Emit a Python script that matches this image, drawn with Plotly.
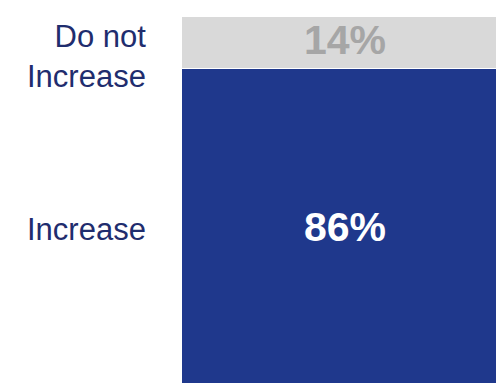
import plotly.graph_objects as go

categories = ["Increase", "Do not Increase"]
labels = ["Increase", "Do not<br>Increase"]
values = [86, 14]
colors = ["#1f388c", "#d9d9d9"]
text_colors = ["#ffffff", "#a6a6a6"]
label_color = "#1f2d6e"

fig = go.Figure()
for cat, val, col in zip(categories, values, colors):
    fig.add_trace(go.Bar(
        x=[0], y=[val], name=cat, width=1,
        marker=dict(color=col, line=dict(color="#ffffff", width=1.5)),
        textposition="none", hoverinfo="skip",
    ))

base = 0
label_offsets = [3, 14]
for lab, val, tc, off in zip(labels, values, text_colors, label_offsets):
    mid = base + val / 2
    fig.add_annotation(
        x=0, y=mid, xref="x", yref="y", text=f"<b>{val}%</b>",
        showarrow=False, xshift=5, yshift=(3 if val == 14 else 0),
        font=dict(family="Liberation Sans, Arial", size=41, color=tc),
    )
    fig.add_annotation(
        x=0, y=mid, xref="paper", yref="y", text=lab,
        showarrow=False, xanchor="right", yanchor="middle", align="right",
        xshift=-34, yshift=-off,
        font=dict(family="Liberation Sans, Arial", size=31, color=label_color),
    )
    base += val

fig.update_layout(
    barmode="stack", bargap=0, showlegend=False,
    width=496, height=383,
    margin=dict(l=182, r=0, t=17, b=0, pad=0),
    paper_bgcolor="white", plot_bgcolor="white",
    xaxis=dict(range=[-0.495, 0.49], visible=False, fixedrange=True),
    yaxis=dict(range=[0.6, 100], visible=False, fixedrange=True),
)
fig.write_html("out.html", config={"displayModeBar": False})
